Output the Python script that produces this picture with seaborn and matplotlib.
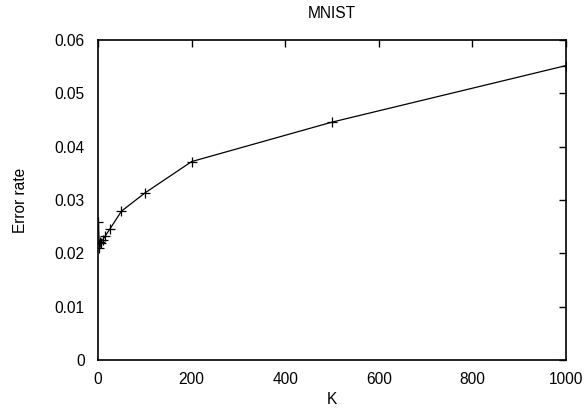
import matplotlib
matplotlib.use("Agg")
import matplotlib.pyplot as plt
import seaborn as sns
import pandas as pd

K = [1, 3, 5, 7, 10, 15, 25, 50, 100, 200, 500, 1000]
error_rate = [0.0258, 0.0210, 0.0222, 0.0220, 0.0225, 0.0232, 0.0245, 0.0279, 0.0313, 0.0372, 0.0446, 0.0552]
xticks = [0, 200, 400, 600, 800, 1000]
yticks = [0, 0.01, 0.02, 0.03, 0.04, 0.05, 0.06]
ytick_labels = ["0", "0.01", "0.02", "0.03", "0.04", "0.05", "0.06"]

sns.set_style("white", {"text.color": "black", "axes.labelcolor": "black",
                        "xtick.color": "black", "ytick.color": "black"})
plt.rcParams['font.family'] = ['Liberation Sans', 'DejaVu Sans']

df = pd.DataFrame({"K": K, "Error rate": error_rate})

fs = 11.2
fig = plt.figure(figsize=(5.84, 4.11), dpi=100)
ax = fig.add_axes([0.1678, 0.1241, 0.8014, 0.7786])
sns.lineplot(data=df, x="K", y="Error rate", ax=ax, color="black", linewidth=0.9,
             marker="+", markersize=7, markeredgewidth=0.9, markeredgecolor="black")
ax.set_xlim(0, 1000)
ax.set_ylim(0, 0.06)
ax.set_xticks(xticks)
ax.set_xticklabels([str(t) for t in xticks])
ax.set_yticks(yticks)
ax.set_yticklabels(ytick_labels)
ax.tick_params(direction="in", length=5, width=1, top=True, right=True, labelsize=fs, colors="black")
ax.tick_params(axis="x", pad=8.5)
ax.tick_params(axis="y", pad=9.5)
for s in ax.spines.values():
    s.set_visible(True)
    s.set_color("black")
    s.set_linewidth(1.2)
ax.set_title("MNIST", fontsize=fs, pad=16, color="black")
ax.set_xlabel("K", fontsize=fs, labelpad=4, color="black")
ax.set_ylabel("Error rate", fontsize=fs, labelpad=19, color="black")
fig.savefig("out.png", dpi=100)
